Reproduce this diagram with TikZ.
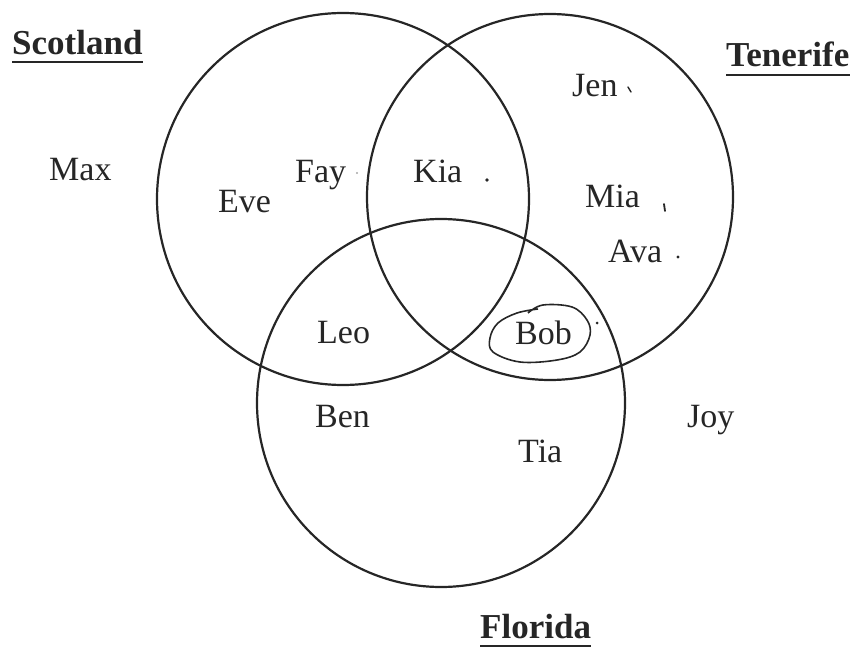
\documentclass[tikz,border=0pt]{standalone}
\usepackage{fontspec}
\setmainfont{Liberation Serif}
\begin{document}
\begin{tikzpicture}[x=1pt,y=-1pt,
  ring/.style={draw=black!85,line width=2.2pt},
  who/.style={inner sep=0pt,anchor=base west,font=\fontsize{34}{40}\selectfont,text=black!85},
  ttl/.style={inner sep=0pt,anchor=base west,font=\fontsize{35}{40}\selectfont\bfseries,text=black!85},
  uline/.style={line width=1.8pt,black!85},
  dotm/.style={fill=black!85,draw=none},
  bobloop/.style={draw=black!85,line width=1.6pt}]
\useasboundingbox (0,0) rectangle (859,650);
% circles
\node[ring,circle,minimum size=372pt,inner sep=0pt] (S) at (343,199) {};
\node[ring,circle,minimum size=366pt,inner sep=0pt] (T) at (550,197) {};
\node[ring,circle,minimum size=368pt,inner sep=0pt] (F) at (441,403) {};
% titles
\node[ttl] (scot) at (12,55) {Scotland};
\node[ttl] (tene) at (726,67) {Tenerife};
\node[ttl] (flor) at (480,638) {Florida};
\draw[uline] ([yshift=-7pt]scot.base west) -- ([yshift=-7pt]scot.base east);
\draw[uline] ([yshift=-8pt]tene.base west) -- ([yshift=-8pt]tene.base east);
\draw[uline] ([yshift=-8pt]flor.base west) -- ([yshift=-8pt]flor.base east);
% names
\node[who] (max) at (49,180) {Max};
\node[who] (eve) at (218,212) {Eve};
\node[who] (fay) at (295,182) {Fay};
\node[who] (kia) at (413,182) {Kia};
\node[who] (jen) at (572,97) {Jen};
\node[who] (mia) at (585,207) {Mia};
\node[who] (ava) at (608,262) {Ava};
\node[who] (leo) at (317,343) {Leo};
\node[who] (bob) at (515,344) {Bob};
\node[who] (ben) at (315,427) {Ben};
\node[who] (tia) at (518,462) {Tia};
\node[who] (joy) at (687,427) {Joy};
% small marks
\fill[black!35] (357,173) circle (1.1pt);
\fill[dotm] (487,180) circle (1.8pt);
\draw[line width=1.4pt,black!85,line cap=round] (628,87) -- (631,92);
\draw[line width=1.8pt,black!85,line cap=round] (664,204) -- (665,211);
\fill[dotm] (678,257) circle (1.7pt);
\fill[dotm] (597,323) circle (1.5pt);
% hand-drawn loop round Bob
\draw[bobloop] plot[smooth,tension=0.6] coordinates {(528,313) (543,305) (572,307) (587,320) (590,335) (580,352) (557,360) (520,362) (493,352) (490,338) (498,323) (517,313) (538,309)};
\end{tikzpicture}
\end{document}
